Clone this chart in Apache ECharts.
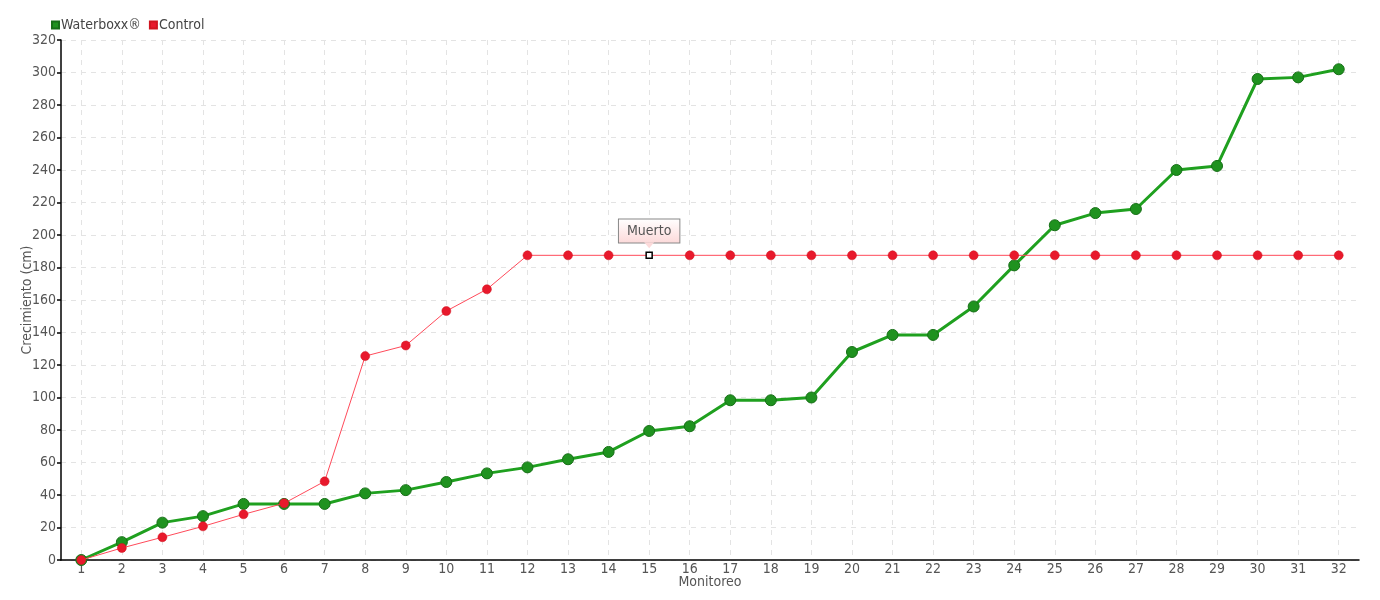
<!DOCTYPE html>
<html>
<head>
<meta charset="utf-8">
<script src="https://cdn.jsdelivr.net/npm/echarts@6/dist/echarts.min.js"></script>
<style>
html,body{margin:0;padding:0;background:#fff;}
#chart{width:1380px;height:600px;}
</style>
</head>
<body>
<div id="chart"></div>
<script>
const categories = [1,2,3,4,5,6,7,8,9,10,11,12,13,14,15,16,17,18,19,20,21,22,23,24,25,26,27,28,29,30,31,32];
const waterboxx = [0,11,23,27,34.5,34.5,34.5,41,43,48,53.3,57,62,66.5,79.4,82.3,98.3,98.3,100,128,138.5,138.5,156,181.3,206,213.5,216,240,242.5,296,297,302];
const control = [0,7.4,14,20.7,28.1,34.9,48.4,125.5,132,153.2,166.6,187.5,187.5,187.5,187.5,187.5,187.5,187.5,187.5,187.5,187.5,187.5,187.5,187.5,187.5,187.5,187.5,187.5,187.5,187.5,187.5,187.5];
const deadIndex = 14;
const deadLabel = 'Muerto';

const FONT = "'Liberation Sans Narrow','DejaVu Sans Condensed',sans-serif";
const chart = echarts.init(document.getElementById('chart'), null, {renderer:'canvas'});

const greenData = categories.map((c,i)=>[c, waterboxx[i]]);
const redData = categories.map((c,i)=>{
  if (i === deadIndex) {
    return {
      value:[c, control[i]],
      symbol:'rect', symbolSize:6,
      itemStyle:{color:'#fff', borderColor:'#000', borderWidth:1.5},
      label:{
        show:true, formatter:deadLabel, position:'top', distance:9,
        fontFamily:FONT, fontSize:14, color:'#555',
        padding:[5,8,4,8], borderColor:'#888', borderWidth:1,
        backgroundColor:{type:'linear',x:0,y:0,x2:0,y2:1,colorStops:[{offset:0,color:'#ffffff'},{offset:1,color:'#fcd9d9'}]}
      }
    };
  }
  return [c, control[i]];
});

chart.setOption({
  animation:false,
  textStyle:{fontFamily:FONT},
  grid:{left:61, right:21, top:40, bottom:40, containLabel:false},
  legend:{
    left:46, top:13, icon:'rect', itemWidth:7, itemHeight:7, itemGap:8,
    textStyle:{fontFamily:FONT, fontSize:14, color:'#444', padding:[0,0,0,-3]},
    data:['Waterboxx®','Control']
  },
  xAxis:{
    type:'value', min:0.5, max:32.5,
    name:'Monitoreo', nameLocation:'middle', nameGap:15, nameMoveOverlap:false,
    nameTextStyle:{fontFamily:FONT, fontSize:14, color:'#555'},
    axisLine:{show:true, lineStyle:{color:'#000', width:1.5}},
    axisTick:{show:false, customValues:categories},
    axisLabel:{customValues:categories, fontFamily:FONT, fontSize:14, color:'#555', margin:2},
    splitLine:{show:true, lineStyle:{color:'#e3e3e3', type:[5,5], width:1}}
  },
  yAxis:{
    type:'value', min:0, max:320, interval:20,
    name:'Crecimiento (cm)', nameLocation:'middle', nameGap:27, nameMoveOverlap:false,
    nameTextStyle:{fontFamily:FONT, fontSize:14, color:'#555'},
    axisLine:{show:true, lineStyle:{color:'#000', width:1.5}},
    axisTick:{show:true, length:4, lineStyle:{color:'#000', width:1.5}},
    axisLabel:{fontFamily:FONT, fontSize:14, color:'#555', margin:5},
    splitLine:{show:true, lineStyle:{color:'#e3e3e3', type:[5,5], width:1}}
  },
  series:[
    {
      name:'Waterboxx®', type:'line', data:greenData, z:3,
      symbol:'circle', symbolSize:11,
      lineStyle:{color:'#1fa01f', width:3},
      itemStyle:{color:'#1f921f', borderColor:'#176f17', borderWidth:1},
    },
    {
      name:'Control', type:'line', data:redData, z:4,
      symbol:'circle', symbolSize:9,
      lineStyle:{color:'#ff4a5a', width:1},
      itemStyle:{color:'#e8192c', borderColor:'#d0141f', borderWidth:0.5},
      markPoint:{
        silent:true,
        label:{show:false},
        data:[{
          coord:[categories[deadIndex], control[deadIndex]],
          symbol:'triangle', symbolRotate:180, symbolSize:[10,6], symbolOffset:[0,-10],
          itemStyle:{color:'#fcdada', borderColor:'#888', borderWidth:0}
        }]
      }
    }
  ]
});
</script>
</body>
</html>
